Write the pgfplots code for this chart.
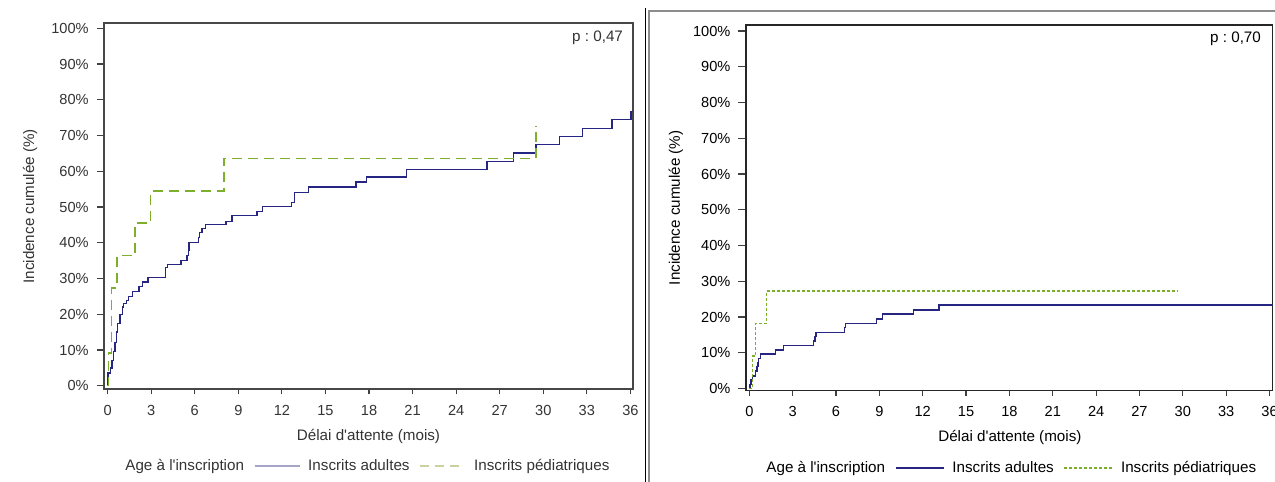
\documentclass[border=0pt]{standalone}
\usepackage{fontspec}
\setmainfont{Liberation Sans}
\usepackage{pgfplots}
\pgfplotsset{compat=1.18}
\definecolor{kmblue}{RGB}{38,38,130}
\definecolor{kmgreen}{RGB}{125,175,45}
\definecolor{lgblue}{RGB}{165,165,200}
\definecolor{lggreen}{RGB}{200,210,160}
\pgfplotsset{kmbase/.style={
  scale only axis,
  xmin=-0.23, xmax=36.16,
  xtick={0,3,...,36},
  ytick={0,10,...,100},
  yticklabels={0\%,10\%,20\%,30\%,40\%,50\%,60\%,70\%,80\%,90\%,100\%},
  tick align=outside, tick pos=left,
  xtick style={black!75, line width=0.6pt, /pgfplots/major tick length=2.6pt},
  ytick style={black!75, line width=0.6pt, /pgfplots/major tick length=3.8pt},
  ticklabel style={font=\fontsize{7.3}{8}\selectfont},
  xticklabel style={text height=5.3pt, text depth=0pt},
  label style={font=\fontsize{7.6}{9}\selectfont},
  /pgf/number format/assume math mode=true,
  legend columns=-1,
  legend style={draw=none, fill=none, inner sep=0pt, anchor=west,
    font=\fontsize{7.6}{9}\selectfont,
    nodes={inner sep=0pt, anchor=west},
    /tikz/every odd column/.style={column sep=4pt},
    /tikz/every even column/.style={column sep=5pt}},
}}
\frenchspacing
\begin{document}
\begin{tikzpicture}
\path[use as bounding box] (0,0) rectangle (637.5pt,241pt);
% ---------------- left panel ----------------
\begin{axis}[kmbase,
  at={(52.15pt,46.35pt)}, anchor=south west,
  width=264.2pt, height=183pt,
  ymin=-1.0, ymax=101.4,
  axis line style={black!72, line width=0.9pt},
  every tick label/.append style={text=black!80},
  xlabel={Délai d\textquotesingle attente (mois)},
  ylabel={Incidence cumulée (\%)},
  xlabel style={at={(axis description cs:0.5,-0.13)}, anchor=center, text=black!80},
  ylabel style={at={(axis description cs:-0.1406,0.5)}, anchor=center, text=black!80},
  legend style={at={(axis description cs:0.024,-0.2096)}, text=black!80},
  legend image code/.code={\draw[#1] (0pt,0pt) -- (22.5pt,0pt);},
]
\addlegendimage{empty legend}
\addlegendentry{Age à l\textquotesingle inscription\hspace{4.5pt}}
\addlegendimage{lgblue, line width=0.6pt}
\addlegendentry{Inscrits adultes}
\addlegendimage{lggreen, line width=0.8pt, dash pattern=on 4.5pt off 3pt}
\addlegendentry{Inscrits pédiatriques}
\addplot[forget plot, const plot, kmblue, line width=0.65pt] coordinates {
(0,0) (0.02,3.6) (0.2,5.0) (0.3,7.0) (0.4,9.5) (0.5,12.0) (0.6,15.0)
(0.7,17.5) (0.85,20.0) (1.0,22.0) (1.1,23.0) (1.3,23.9) (1.46,25.0)
(1.7,26.4) (2.15,27.8) (2.38,29.0) (2.77,30.2) (3.98,33.0) (4.1,33.9)
(5.06,35.1) (5.47,36.4) (5.55,38.0) (5.61,40.1) (6.28,41.5) (6.34,42.8)
(6.5,43.9) (6.73,45.1) (8.15,46.0) (8.56,47.6) (10.28,48.8) (10.67,50.2)
(12.68,51.3) (12.86,54.1) (13.83,55.6) (17.1,57.0) (17.84,58.4)
(20.58,60.5) (26.12,62.7) (27.95,65.1) (29.51,67.4) (31.11,69.7)
(32.71,71.9) (34.73,74.4) (36.04,76.7) (36.5,76.7)
};
\addplot[forget plot, const plot, kmgreen, line width=0.75pt, dash pattern=on 5pt off 3pt] coordinates {
(0,0) (0.06,9.1) (0.28,27.3) (0.66,36.4) (1.88,45.5) (2.96,54.5)
(8.01,63.6) (29.5,72.7)
};
\node[anchor=east, font=\fontsize{7.6}{9}\selectfont, text=black!80] at (axis description cs:0.9949,0.961) {p : 0,47};
\end{axis}
% ---------------- right panel ----------------
\begin{axis}[kmbase,
  at={(373pt,45.65pt)}, anchor=south west,
  width=263.35pt, height=182.85pt,
  xmin=-0.23, xmax=36.22,
  ymin=-0.6, ymax=101.7,
  axis line style={black!85, line width=0.55pt},
  xlabel={Délai d\textquotesingle attente (mois)},
  ylabel={Incidence cumulée (\%)},
  xlabel style={at={(axis description cs:0.501,-0.129)}, anchor=center},
  ylabel style={at={(axis description cs:-0.133,0.5)}, anchor=center},
  legend style={at={(axis description cs:0.0228,-0.2114)}},
  legend image code/.code={\draw[#1] (0pt,0pt) -- (24pt,0pt);},
]
\addlegendimage{empty legend}
\addlegendentry{Age à l\textquotesingle inscription\hspace{4.5pt}}
\addlegendimage{kmblue, line width=0.7pt}
\addlegendentry{Inscrits adultes}
\addlegendimage{kmgreen, line width=0.6pt, dash pattern=on 1.5pt off 1pt}
\addlegendentry{Inscrits pédiatriques}
\addplot[forget plot, const plot, kmblue, line width=0.7pt] coordinates {
(0,0) (0.05,1.2) (0.12,2.4) (0.2,3.5) (0.44,4.9) (0.53,6.1) (0.6,7.3)
(0.65,8.4) (0.77,9.65) (1.83,10.8) (2.35,12.1) (4.43,13.3) (4.55,14.5)
(4.62,15.7) (6.57,17.0) (6.64,18.2) (8.82,19.5) (9.2,20.8) (11.35,22.0)
(13.13,23.4) (37,23.4)
};
\addplot[forget plot, const plot, kmgreen, line width=0.6pt, dash pattern=on 1.5pt off 1pt] coordinates {
(0,0) (0.24,9.1) (0.44,18.2) (1.2,27.3) (29.65,27.3)
};
\node[anchor=east, font=\fontsize{7.6}{9}\selectfont] at (axis description cs:0.991,0.9617) {p : 0,70};
\end{axis}
% ---------------- separators ----------------
\draw[black, line width=0.5pt] (322.85pt,0pt) -- (322.85pt,237pt);
\draw[black!45, line width=0.6pt] (324.5pt,0pt) -- (324.5pt,235.5pt) -- (637.5pt,235.5pt);
\end{tikzpicture}
\end{document}
